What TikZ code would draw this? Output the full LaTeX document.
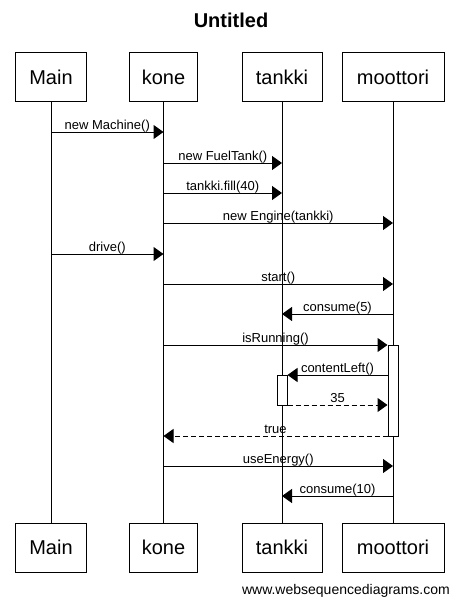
\documentclass[tikz,border=0pt]{standalone}
\usepackage{fontspec}
\setmainfont{Liberation Sans}
\usetikzlibrary{arrows.meta}
\begin{document}
\begin{tikzpicture}[x=1pt,y=-1pt,
  part/.style={draw, line width=1pt, minimum height=49pt, inner sep=0pt, font=\fontsize{20}{24}\selectfont},
  life/.style={line width=1pt},
  msg/.style={line width=1pt, -{Triangle[length=10pt,width=14pt]}},
  ret/.style={msg, dash pattern=on 5pt off 3pt},
  lbl/.style={font=\fontsize{13}{15}\selectfont, anchor=base, yshift=3pt, inner sep=0pt},
  act/.style={draw, fill=white, line width=1pt, minimum width=10pt, inner sep=0pt}]
\useasboundingbox (0,0) rectangle (459,607);
\node[font=\bfseries\fontsize{20}{24}\selectfont, anchor=base] (title) at (231,28) {Untitled};
% participants
\node[part, minimum width=71pt] (MainT) at (51,77.5) {Main};
\node[part, minimum width=68pt] (koneT) at (163.5,77.5) {kone};
\node[part, minimum width=80pt] (tankkiT) at (282,77.5) {tankki};
\node[part, minimum width=102pt] (moottoriT) at (393,77.5) {moottori};
\node[part, minimum width=71pt] (MainB) at (51,547.5) {Main};
\node[part, minimum width=68pt] (koneB) at (163.5,547.5) {kone};
\node[part, minimum width=80pt] (tankkiB) at (282,547.5) {tankki};
\node[part, minimum width=102pt] (moottoriB) at (393,547.5) {moottori};
% lifelines
\draw[life] (MainT) -- (MainB);
\draw[life] (koneT) -- (koneB);
\draw[life] (tankkiT) -- (tankkiB);
\draw[life] (moottoriT) -- (moottoriB);
% activations
\node[act, minimum height=91pt] (actM) at (393,390.5) {};
\node[act, minimum height=30pt] (actT) at (282,390) {};
% rows
\coordinate (r1) at (0,132);
\coordinate (r2) at (0,163);
\coordinate (r3) at (0,193);
\coordinate (r4) at (0,223);
\coordinate (r5) at (0,254);
\coordinate (r6) at (0,284);
\coordinate (r7) at (0,314);
\coordinate (r8) at (0,345);
\coordinate (r9) at (0,375);
\coordinate (r10) at (0,405);
\coordinate (r11) at (0,436);
\coordinate (r12) at (0,466);
\coordinate (r13) at (0,496);
% messages
\draw[msg] (MainT |- r1) -- node[lbl] {new Machine()} (koneT |- r1);
\draw[msg] (koneT |- r2) -- node[lbl] {new FuelTank()} (tankkiT |- r2);
\draw[msg] (koneT |- r3) -- node[lbl] {tankki.fill(40)} (tankkiT |- r3);
\draw[msg] (koneT |- r4) -- node[lbl] {new Engine(tankki)} (moottoriT |- r4);
\draw[msg] (MainT |- r5) -- node[lbl] {drive()} (koneT |- r5);
\draw[msg] (koneT |- r6) -- node[lbl] {start()} (moottoriT |- r6);
\draw[msg] (moottoriT |- r7) -- node[lbl] {consume(5)} (tankkiT |- r7);
\draw[msg] (koneT |- r8) -- node[lbl] {isRunning()} (actM.west |- r8);
\draw[msg] (actM.west |- r9) -- node[lbl] {contentLeft()} (actT.east |- r9);
\draw[ret] (actT.east |- r10) -- node[lbl] {35} (actM.west |- r10);
\draw[ret] (actM.west |- r11) -- node[lbl] {true} (koneT |- r11);
\draw[msg] (koneT |- r12) -- node[lbl] {useEnergy()} (moottoriT |- r12);
\draw[msg] (moottoriT |- r13) -- node[lbl] {consume(10)} (tankkiT |- r13);
\node[font=\fontsize{14}{16}\selectfont, anchor=base east, inner sep=0pt] (wm) at (450,594) {www.websequencediagrams.com};
\end{tikzpicture}
\end{document}
